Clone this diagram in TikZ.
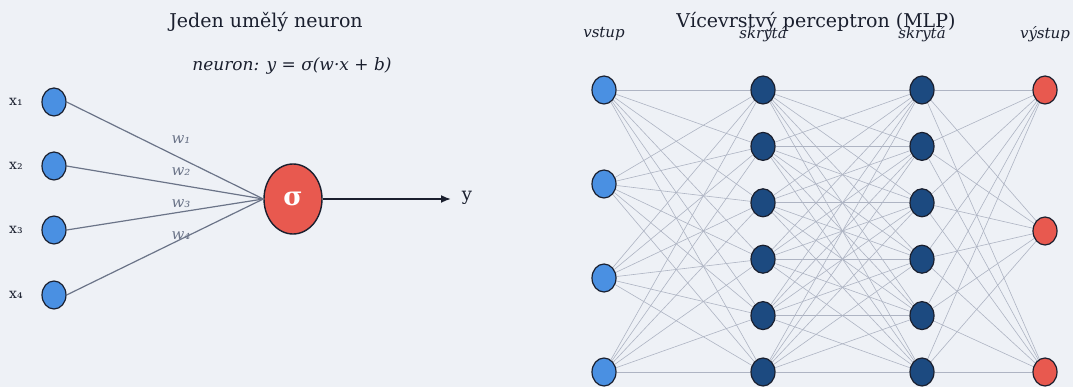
\documentclass[tikz,border=0pt]{standalone}
\usepackage{fontspec}
\setmainfont{DejaVu Serif}
\usetikzlibrary{arrows.meta,backgrounds,shapes.geometric}
\definecolor{bg}{HTML}{EEF1F6}
\definecolor{inblue}{HTML}{4A90E2}
\definecolor{hidblue}{HTML}{1C4A80}
\definecolor{outred}{HTML}{E8594F}
\definecolor{txt}{HTML}{1A1F2E}
\definecolor{wgray}{HTML}{6B7488}
\definecolor{cgray}{HTML}{AEB4C3}
\tikzset{
  neu/.style={ellipse, draw=txt, line width=1.2pt, minimum width=24pt, minimum height=28pt, inner sep=0pt},
  inn/.style={neu, fill=inblue},
  hid/.style={neu, fill=hidblue},
  outn/.style={neu, fill=outred},
  wline/.style={draw=wgray, line width=1.2pt},
  cline/.style={draw=cgray, line width=0.6pt},
  lbl/.style={text=txt, font=\fontsize{14}{16}\selectfont},
  wlbl/.style={text=wgray, font=\itshape\fontsize{15}{17}\selectfont},
  layer/.style={text=txt, font=\itshape\fontsize{15}{17}\selectfont},
  ttl/.style={text=txt, font=\fontsize{19}{22}\selectfont},
}
\begin{document}
\begin{tikzpicture}[x=1pt,y=-1pt]
\useasboundingbox (0,0) rectangle (1073,387);
% left panel
\node[ttl] (t1) at (266,22) {Jeden umělý neuron};
\node[text=txt, font=\itshape\fontsize{17}{20}\selectfont] (f1) at (292,66) {neuron: y = σ(w·x + b)};
\foreach \i/\y in {1/102,2/166,3/230,4/295}{
  \node[inn] (x\i) at (54,\y) {};
  \node[lbl] (lx\i) at (16,\y) {x\ifcase\i\or₁\or₂\or₃\or₄\fi};
}
\node[ellipse, draw=txt, line width=1.4pt, fill=outred, minimum width=58pt, minimum height=70pt, inner sep=0pt,
  text=white, font=\bfseries\fontsize{26}{28}\selectfont] (s) at (293,199) {σ};
\foreach \i in {1,...,4}{ \draw[wline] (x\i.east) -- (s.west); }
\node[wlbl] (w1) at (181,140) {w₁};
\node[wlbl] (w2) at (181,172) {w₂};
\node[wlbl] (w3) at (181,204) {w₃};
\node[wlbl] (w4) at (181,236) {w₄};
\node[text=txt, font=\fontsize{18}{20}\selectfont] (y) at (467,198) {y};
\coordinate (ytip) at (451,199);
\draw[draw=txt, line width=1.8pt, -{Latex[length=10pt,width=8pt]}] (s.east) -- (ytip);
% right panel
\node[ttl] (t2) at (816,22) {Vícevrstvý perceptron (MLP)};
\node[layer] (l1) at (604,34) {vstup};
\node[layer] (l2) at (763,34) {skrytá};
\node[layer] (l3) at (922,34) {skrytá};
\node[layer] (l4) at (1045,34) {výstup};
\foreach \i/\y in {1/90,2/184,3/278,4/372}{ \node[inn] (a\i) at (604,\y) {}; }
\foreach \i/\y in {1/90,2/146.4,3/202.8,4/259.2,5/315.6,6/372}{
  \node[hid] (b\i) at (763,\y) {};
  \node[hid] (c\i) at (922,\y) {};
}
\foreach \i/\y in {1/90,2/231,3/372}{ \node[outn] (d\i) at (1045,\y) {}; }
\begin{scope}[on background layer]
\fill[bg] (0,0) rectangle (1073,387);
\foreach \i in {1,...,4}{\foreach \j in {1,...,6}{ \draw[cline] (a\i) -- (b\j); }}
\foreach \i in {1,...,6}{\foreach \j in {1,...,6}{ \draw[cline] (b\i) -- (c\j); }}
\foreach \i in {1,...,6}{\foreach \j in {1,...,3}{ \draw[cline] (c\i) -- (d\j); }}
\end{scope}
\end{tikzpicture}
\end{document}
